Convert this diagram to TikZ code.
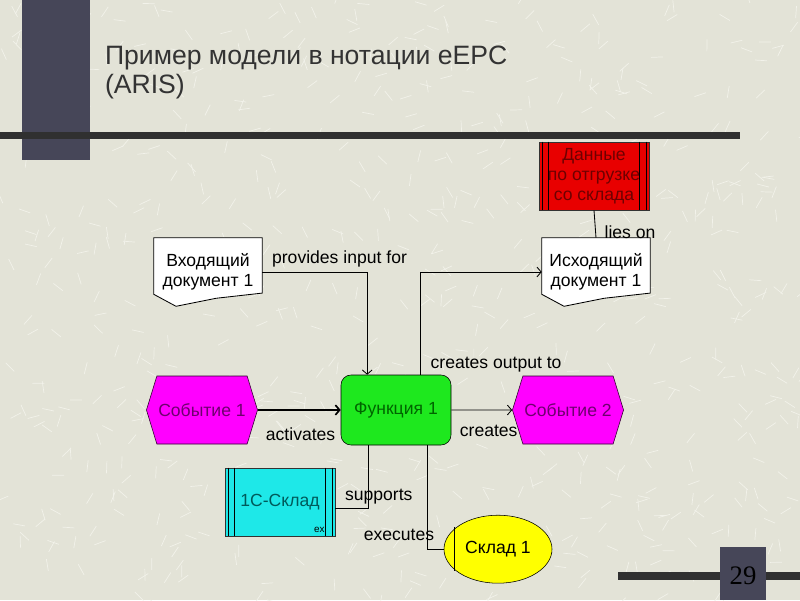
\documentclass[tikz,border=0pt]{standalone}
\usepackage{fontspec}
\setmainfont{Liberation Sans}
\newfontfamily\pagenumfont{Liberation Serif}
\usetikzlibrary{positioning,shapes.geometric,shapes.symbols,arrows.meta,backgrounds}
\definecolor{slidebg}{RGB}{227,227,215}
\definecolor{speck}{RGB}{242,242,234}
\definecolor{barslate}{RGB}{70,70,88}
\definecolor{bardark}{RGB}{48,48,48}
\definecolor{evfill}{RGB}{255,0,255}
\definecolor{evtext}{RGB}{110,0,110}
\definecolor{fnfill}{RGB}{30,232,30}
\definecolor{fntext}{RGB}{0,100,0}
\definecolor{datafill}{RGB}{232,0,0}
\definecolor{datatext}{RGB}{110,0,0}
\definecolor{sysfill}{RGB}{30,232,232}
\definecolor{systext}{RGB}{0,90,90}
\definecolor{orgfill}{RGB}{255,255,0}

\begin{document}
\begin{tikzpicture}[on grid,auto,node distance=2cm,
  every node/.style={font=\fontsize{12.5}{14}\selectfont},
  event/.style={signal,signal to=west and east,signal pointer angle=146,
                fill=evfill,draw=black!60!evtext,text=evtext,
                minimum width=2.75cm,minimum height=1.7cm,inner sep=1pt},
  func/.style={rectangle,rounded corners=0.25cm,fill=fnfill,draw=black,
               text=fntext,minimum width=2.75cm,minimum height=1.75cm},
  doc/.style={rectangle,align=center,minimum width=2.7cm,minimum height=1.7cm},
  carrier/.style={rectangle,align=center,draw=black!80,
                  minimum width=2.75cm,minimum height=1.7cm},
  orgunit/.style={ellipse,fill=orgfill,draw=black,
                  minimum width=2.7cm,minimum height=1.7cm},
  lbl/.style={inner sep=1pt,text=black}]

\tikzset{link/.style={-{Straight Barb[length=3pt,width=7pt]},line width=0.6pt}}

\useasboundingbox (0,0) rectangle (20,-15);
\begin{scope}[on background layer]
\fill[slidebg] (0,0) rectangle (20,-15);
% texture of the slide
\pgfmathsetseed{29}
\foreach \k in {1,...,700}
  \draw[speck,line width=0.5pt] ({rnd*20},{-rnd*15}) -- ++({rnd*360}:0.3);
\end{scope}

% slide frame
\fill[barslate] (0.55,0) rectangle (2.25,-4);
\fill[bardark] (0,-3.3) rectangle (18.5,-3.475);
\fill[bardark] (15.45,-14.3) rectangle (20,-14.5);
\fill[barslate] (18,-13.675) rectangle (19.15,-15);

\node[anchor=west,align=left,text=black!80,inner sep=0pt,
      font=\fontsize{18.9}{20.6}\selectfont] (T) at (2.62,-1.81)
      {Пример модели в нотации eEPC\\(ARIS)};
\node[text=black,font=\pagenumfont\fontsize{19}{20}\selectfont] (P) at (18.575,-14.4) {29};

% eEPC model
\node[func] (F) at (9.9,-10.25) {Функция 1};
\node[event] (E1) [left=4.85cm of F] {Событие 1};
\node[event] (E2) [right=4.3cm of F] {Событие 2};
\node[doc] (Din) [above=3.45cm of E1,xshift=0.15cm] {Входящий\\документ 1};
\node[doc] (Dout) [above=3.45cm of E2,xshift=0.7cm] {Исходящий\\документ 1};
\node[carrier,fill=datafill,text=datatext,font=\fontsize{12.5}{14.2}\selectfont]
     (D) [above=2.4cm of Dout,xshift=-0.05cm] {Данные\\по отгрузке\\со склада};
\node[carrier,fill=sysfill,text=systext] (S) [below left=2.3cm and 2.9cm of F] {1С-Склад};
\node[orgunit] (O) [below right=3.48cm and 2.55cm of F] {Склад 1};
\node[inner sep=0pt,font=\fontsize{7}{8}\selectfont] (Sx) at ([xshift=-0.4cm,yshift=0.15cm]S.south east) {ex};

\begin{scope}[on background layer]
\foreach \d in {Din,Dout}
  \filldraw[fill=white,draw=black,line width=0.6pt] (\d.north west) -- (\d.north east)
    -- ([yshift=0.33cm]\d.south east) -- ([xshift=0.2cm,yshift=0.2cm]\d.south)
    -- ([xshift=-0.8cm]\d.south) -- ([yshift=0.3cm]\d.south west) -- cycle;
\end{scope}

\foreach \c in {D,S}
  \draw[line width=0.5pt] ([xshift=0.08cm]\c.north west) -- ([xshift=0.08cm]\c.south west)
    ([xshift=0.25cm]\c.north west) -- ([xshift=0.25cm]\c.south west)
    ([xshift=-0.08cm]\c.north east) -- ([xshift=-0.08cm]\c.south east)
    ([xshift=-0.25cm]\c.north east) -- ([xshift=-0.25cm]\c.south east);
\draw[line width=0.5pt] ([xshift=-1.1cm,yshift=0.55cm]O.center) -- ([xshift=-1.1cm,yshift=-0.55cm]O.center);

\draw[link] (Din.east) -| ([xshift=-0.72cm]F.north)
  node[lbl,pos=0,anchor=base west,xshift=0.2cm,yshift=0.22cm] {provides input for};
\draw[link] ([xshift=0.6cm]F.north) |- (Dout.west)
  node[lbl,pos=0,anchor=base west,xshift=0.22cm,yshift=0.15cm] {creates output to};
\draw[line width=0.6pt] (D.south) -- (Dout.north)
  node[lbl,pos=0.79,anchor=west,xshift=0.18cm] {lies on};
\draw[link,line width=1.2pt] (E1) -- (F)
  node[lbl,pos=1,anchor=base east,xshift=-0.08cm,yshift=-0.77cm] {activates};
\draw[link] (F) -- (E2)
  node[lbl,pos=0,anchor=base west,xshift=0.17cm,yshift=-0.65cm] {creates};
\draw[line width=0.6pt] ([xshift=-0.7cm]F.south) |- ([yshift=-0.15cm]S.east)
  node[lbl,pos=0.5,anchor=base west,xshift=-0.62cm,yshift=0.2cm] {supports};
\draw[line width=0.6pt] ([xshift=0.78cm]F.south) |- (O.west)
  node[lbl,pos=0.5,anchor=base east,xshift=0.22cm,yshift=0.22cm] {executes};
\end{tikzpicture}
\end{document}
